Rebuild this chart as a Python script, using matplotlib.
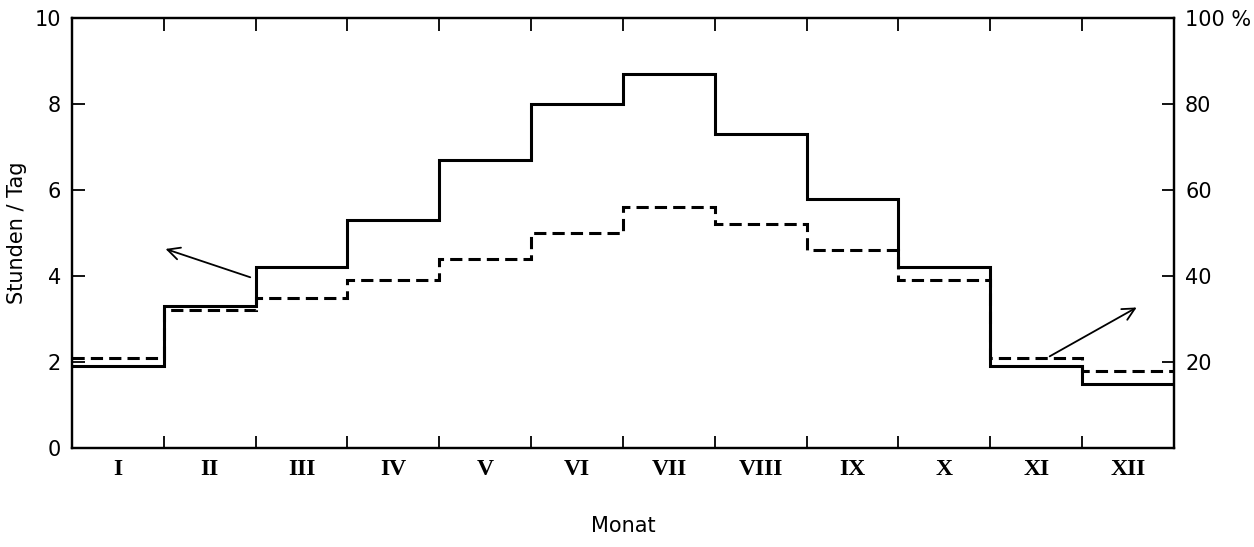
import matplotlib.pyplot as plt
import numpy as np

months = ["I", "II", "III", "IV", "V", "VI", "VII", "VIII", "IX", "X", "XI", "XII"]
# Sonnenscheindauer (Stunden / Tag)
hours = [1.9, 3.3, 4.2, 5.3, 6.7, 8.0, 8.7, 7.3, 5.8, 4.2, 1.9, 1.5]
# relative Sonnenscheindauer (%)
percent = [21, 32, 35, 39, 44, 50, 56, 52, 46, 39, 21, 18]

edges = np.arange(len(months) + 1)

fig = plt.figure(figsize=(12.54, 5.47), dpi=100)
ax = fig.add_axes([0.0574, 0.181, 0.8788, 0.786])
ax2 = ax.twinx()

ax.stairs(hours, edges, color="black", linewidth=2.2, baseline=None)
ax2.stairs(percent, edges, color="black", linewidth=2.2, linestyle=(0, (4, 2)), baseline=None)

ax.set_xlim(0, 12)
ax.set_ylim(0, 10)
ax2.set_ylim(0, 100)

ax.set_xticks(edges[1:-1])
ax.set_xticklabels([])
ax.set_xticks(edges[:-1] + 0.5, minor=True)
ax.set_xticklabels(months, minor=True, fontfamily="Liberation Serif", fontweight="bold", fontsize=17)
ax.tick_params(axis="x", which="major", direction="in", length=9, width=1.3, top=True)
ax.tick_params(axis="x", which="minor", length=0, pad=8)

ax.set_yticks([0, 2, 4, 6, 8, 10])
ax.tick_params(axis="y", direction="in", length=9, width=1.3, labelsize=15, pad=8)
ax2.set_yticks([20, 40, 60, 80, 100])
ax2.set_yticklabels(["20", "40", "60", "80", "100 %"])
ax2.tick_params(axis="y", direction="in", length=9, width=1.3, labelsize=15, pad=8)

for a in (ax, ax2):
    for s in a.spines.values():
        s.set_linewidth(1.6)

ax.set_ylabel("Stunden / Tag", fontsize=15, labelpad=5)
ax.set_xlabel("Monat", fontsize=15, labelpad=26)

ax.annotate("", xy=(0.99, 4.65), xytext=(1.97, 3.95),
            arrowprops=dict(arrowstyle="->", color="black", lw=1.3, mutation_scale=22))
ax.annotate("", xy=(11.62, 3.3), xytext=(10.62, 2.1),
            arrowprops=dict(arrowstyle="->", color="black", lw=1.3, mutation_scale=22))

fig.savefig("out.png", dpi=100)
